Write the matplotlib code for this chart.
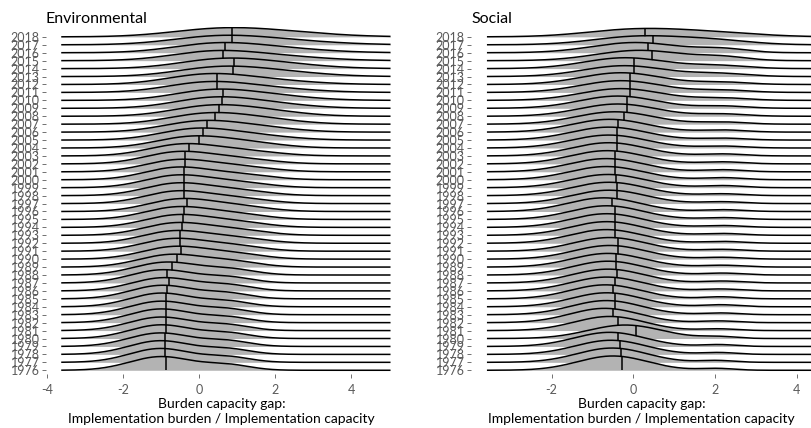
import numpy as np
import matplotlib
matplotlib.use("Agg")
import matplotlib.pyplot as plt

plt.rcParams['font.family'] = ['Lato', 'DejaVu Sans']

years = list(range(1976, 2019))
year_labels = [str(y) for y in years]

# ---------------- Environmental panel (per-year density estimates) ----------------
env_median = [-0.87, -0.89, -0.89, -0.89, -0.88, -0.88, -0.88, -0.87, -0.87, -0.85,
              -0.78, -0.85, -0.71, -0.57, -0.48, -0.51, -0.49, -0.45, -0.41, -0.40,
              -0.31, -0.40, -0.40, -0.40, -0.40, -0.37, -0.38, -0.26, 0.00, 0.11,
              0.22, 0.42, 0.53, 0.61, 0.64, 0.46, 0.48, 0.90, 0.93, 0.64,
              0.69, 0.87, 0.87]
env_mu1 = [-1.00, -1.02, -1.02, -1.02, -1.00, -1.00, -1.00, -0.99, -0.99, -0.97,
           -0.92, -0.95, -0.85, -0.72, -0.64, -0.66, -0.64, -0.60, -0.57, -0.57,
           -0.50, -0.57, -0.57, -0.57, -0.57, -0.54, -0.54, -0.44, -0.22, -0.12,
           0.00, 0.15, 0.25, 0.30, 0.30, 0.15, 0.15, 0.45, 0.50, 0.30,
           0.35, 0.40, 0.40]
env_sd1 = [0.82, 0.81, 0.82, 0.83, 0.82, 0.83, 0.82, 0.83, 0.82, 0.83,
           0.84, 0.84, 0.85, 0.86, 0.86, 0.86, 0.86, 0.86, 0.86, 0.86,
           0.86, 0.86, 0.86, 0.86, 0.86, 0.88, 0.88, 0.90, 0.93, 0.95,
           0.98, 1.00, 1.00, 1.02, 1.02, 1.05, 1.05, 1.10, 1.10, 1.10,
           1.12, 1.20, 1.25]
env_mu2 = [0.75, 0.75, 0.75, 0.75, 0.75, 0.75, 0.75, 0.75, 0.75, 0.75,
           0.80, 0.80, 0.85, 0.90, 0.95, 0.95, 1.00, 1.00, 1.00, 1.00,
           1.05, 1.05, 1.05, 1.05, 1.10, 1.10, 1.10, 1.20, 1.30, 1.40,
           1.50, 1.60, 1.70, 1.70, 1.80, 1.70, 1.70, 2.00, 2.00, 1.90,
           1.90, 2.00, 2.00]
env_sd2 = [0.60, 0.60, 0.60, 0.60, 0.60, 0.60, 0.60, 0.60, 0.60, 0.60,
           0.62, 0.62, 0.65, 0.70, 0.75, 0.75, 0.78, 0.78, 0.78, 0.78,
           0.80, 0.80, 0.80, 0.80, 0.80, 0.85, 0.85, 0.90, 0.90, 1.00,
           1.00, 1.00, 1.00, 1.10, 1.10, 1.20, 1.20, 1.20, 1.20, 1.30,
           1.30, 1.40, 1.40]
env_w2 = [0.22, 0.22, 0.22, 0.22, 0.22, 0.22, 0.22, 0.22, 0.22, 0.22,
          0.23, 0.23, 0.24, 0.25, 0.26, 0.26, 0.27, 0.27, 0.27, 0.27,
          0.27, 0.27, 0.27, 0.27, 0.27, 0.28, 0.28, 0.29, 0.30, 0.31,
          0.32, 0.33, 0.34, 0.35, 0.35, 0.35, 0.35, 0.38, 0.38, 0.40,
          0.40, 0.42, 0.45]

# ---------------- Social panel (per-year density estimates) ----------------
soc_median = [-0.28, -0.30, -0.33, -0.37, 0.06, -0.38, -0.50, -0.46, -0.45, -0.49,
              -0.45, -0.41, -0.42, -0.42, -0.37, -0.37, -0.46, -0.45, -0.45, -0.45,
              -0.52, -0.39, -0.40, -0.42, -0.46, -0.46, -0.44, -0.39, -0.39, -0.39,
              -0.37, -0.24, -0.16, -0.16, -0.07, -0.07, -0.07, 0.01, 0.02, 0.45,
              0.35, 0.49, 0.29]
soc_mu1 = [-0.50, -0.52, -0.55, -0.58, -0.20, -0.58, -0.70, -0.66, -0.65, -0.68,
           -0.65, -0.62, -0.62, -0.62, -0.58, -0.58, -0.66, -0.65, -0.65, -0.65,
           -0.72, -0.60, -0.60, -0.62, -0.66, -0.66, -0.64, -0.60, -0.60, -0.60,
           -0.58, -0.45, -0.38, -0.38, -0.30, -0.30, -0.30, -0.22, -0.20, 0.15,
           0.05, 0.15, -0.05]
soc_sd1 = [0.85, 0.85, 0.86, 0.86, 0.90, 0.86, 0.85, 0.86, 0.86, 0.86,
           0.87, 0.87, 0.87, 0.88, 0.88, 0.88, 0.88, 0.88, 0.88, 0.88,
           0.88, 0.90, 0.90, 0.90, 0.90, 0.90, 0.90, 0.90, 0.92, 0.92,
           0.92, 0.95, 0.95, 0.95, 0.98, 0.98, 0.98, 1.00, 1.00, 1.05,
           1.05, 1.10, 1.15]
soc_mu2 = [2.05, 2.05, 2.10, 2.10, 2.10, 2.10, 2.10, 2.15, 2.15, 2.15,
           2.15, 2.20, 2.20, 2.20, 2.20, 2.20, 2.20, 2.20, 2.20, 2.20,
           2.20, 2.20, 2.20, 2.20, 2.20, 2.20, 2.20, 2.20, 2.20, 2.20,
           2.20, 2.20, 2.20, 2.20, 2.20, 2.20, 2.20, 2.10, 2.10, 2.20,
           2.20, 2.00, 1.80]
soc_sd2 = [0.42, 0.42, 0.42, 0.42, 0.42, 0.45, 0.45, 0.45, 0.45, 0.45,
           0.48, 0.48, 0.48, 0.50, 0.50, 0.50, 0.50, 0.50, 0.50, 0.50,
           0.50, 0.50, 0.50, 0.50, 0.50, 0.50, 0.52, 0.52, 0.55, 0.55,
           0.55, 0.55, 0.58, 0.58, 0.62, 0.62, 0.62, 0.70, 0.70, 0.60,
           0.60, 0.90, 1.20]
soc_w2 = [0.06, 0.06, 0.06, 0.06, 0.06, 0.06, 0.06, 0.06, 0.07, 0.07,
          0.07, 0.07, 0.07, 0.07, 0.07, 0.07, 0.07, 0.07, 0.07, 0.07,
          0.07, 0.07, 0.07, 0.08, 0.08, 0.08, 0.08, 0.08, 0.08, 0.08,
          0.09, 0.09, 0.10, 0.10, 0.11, 0.11, 0.11, 0.16, 0.16, 0.16,
          0.17, 0.28, 0.40]

panel_titles = ["Environmental", "Social"]
xlabel_text = "Burden capacity gap:\nImplementation burden / Implementation capacity"

FILL = "#b3b3b3"
TXT = "#5a5a5a"

W, H = 812, 428
fig = plt.figure(figsize=(W / 100, H / 100), dpi=100)

AX_TOP, AX_BOT = 27, 374


def npdf(x, m, s):
    return np.exp(-0.5 * ((x - m) / s) ** 2) / (s * np.sqrt(2 * np.pi))


def px_axes(x0, x1, ytop, ybot):
    return fig.add_axes([x0 / W, 1 - ybot / H, (x1 - x0) / W, (ybot - ytop) / H])


def ridges(ax, med, mu1, sd1, mu2, sd2, w2, xr, max_h):
    x = np.linspace(xr[0], xr[1], 600)
    dens = []
    for i in range(len(years)):
        d = (1 - w2[i]) * npdf(x, mu1[i], sd1[i]) + w2[i] * npdf(x, mu2[i], sd2[i])
        dens.append(d)
    k = max_h / max(d.max() for d in dens)
    n = len(years)
    for i in range(n - 1, -1, -1):
        h = dens[i] * k
        z = 2 * (n - i)
        ax.fill_between(x, i, i + h, color=FILL, lw=0, zorder=z)
        ax.plot(x, i + h, color="black", lw=1.1, zorder=z + 1, solid_capstyle="butt")
        m = med[i]
        hm = ((1 - w2[i]) * npdf(m, mu1[i], sd1[i]) + w2[i] * npdf(m, mu2[i], sd2[i])) * k
        ax.plot([m, m], [i, i + hm], color="black", lw=1.1, zorder=z + 1,
                solid_capstyle="butt")


def style(ax, xlim, xticks, title):
    hpx = AX_BOT - AX_TOP
    ax.set_xlim(*xlim)
    ax.set_ylim(-0.47, 43.24)
    for s in ax.spines.values():
        s.set_visible(False)
    ax.set_yticks(range(len(years)))
    ax.set_yticklabels(year_labels)
    ax.set_xticks(xticks)
    ax.set_xticklabels([str(t) if t >= 0 else "-" + str(-t) for t in xticks])
    ax.tick_params(axis="both", colors=TXT, labelcolor=TXT, labelsize=9,
                   length=3, width=0.6, pad=1.5)
    ax.tick_params(axis="x", pad=4)
    ax.set_facecolor("white")
    ax.text(0.0, 1 + (AX_TOP - 22.5) / hpx, title, transform=ax.transAxes,
            fontsize=11.5, color="black", ha="left", va="baseline")
    ax.text(0.5, -(398 - AX_BOT) / hpx, xlabel_text, transform=ax.transAxes,
            fontsize=10, color="black", ha="center", va="top", linespacing=1.3)


axL = px_axes(46, 397, AX_TOP, AX_BOT)
ridges(axL, env_median, env_mu1, env_sd1, env_mu2, env_sd2, env_w2, (-3.62, 5.03), 1.75)
style(axL, (-4.02, 5.2), [-4, -2, 0, 2, 4], panel_titles[0])

axR = px_axes(471, 812, AX_TOP, AX_BOT)
ridges(axR, soc_median, soc_mu1, soc_sd1, soc_mu2, soc_sd2, soc_w2, (-3.58, 4.5), 1.8)
style(axR, (-3.97, 4.37), [-2, 0, 2, 4], panel_titles[1])

fig.savefig("out.png", dpi=100, facecolor="white")
